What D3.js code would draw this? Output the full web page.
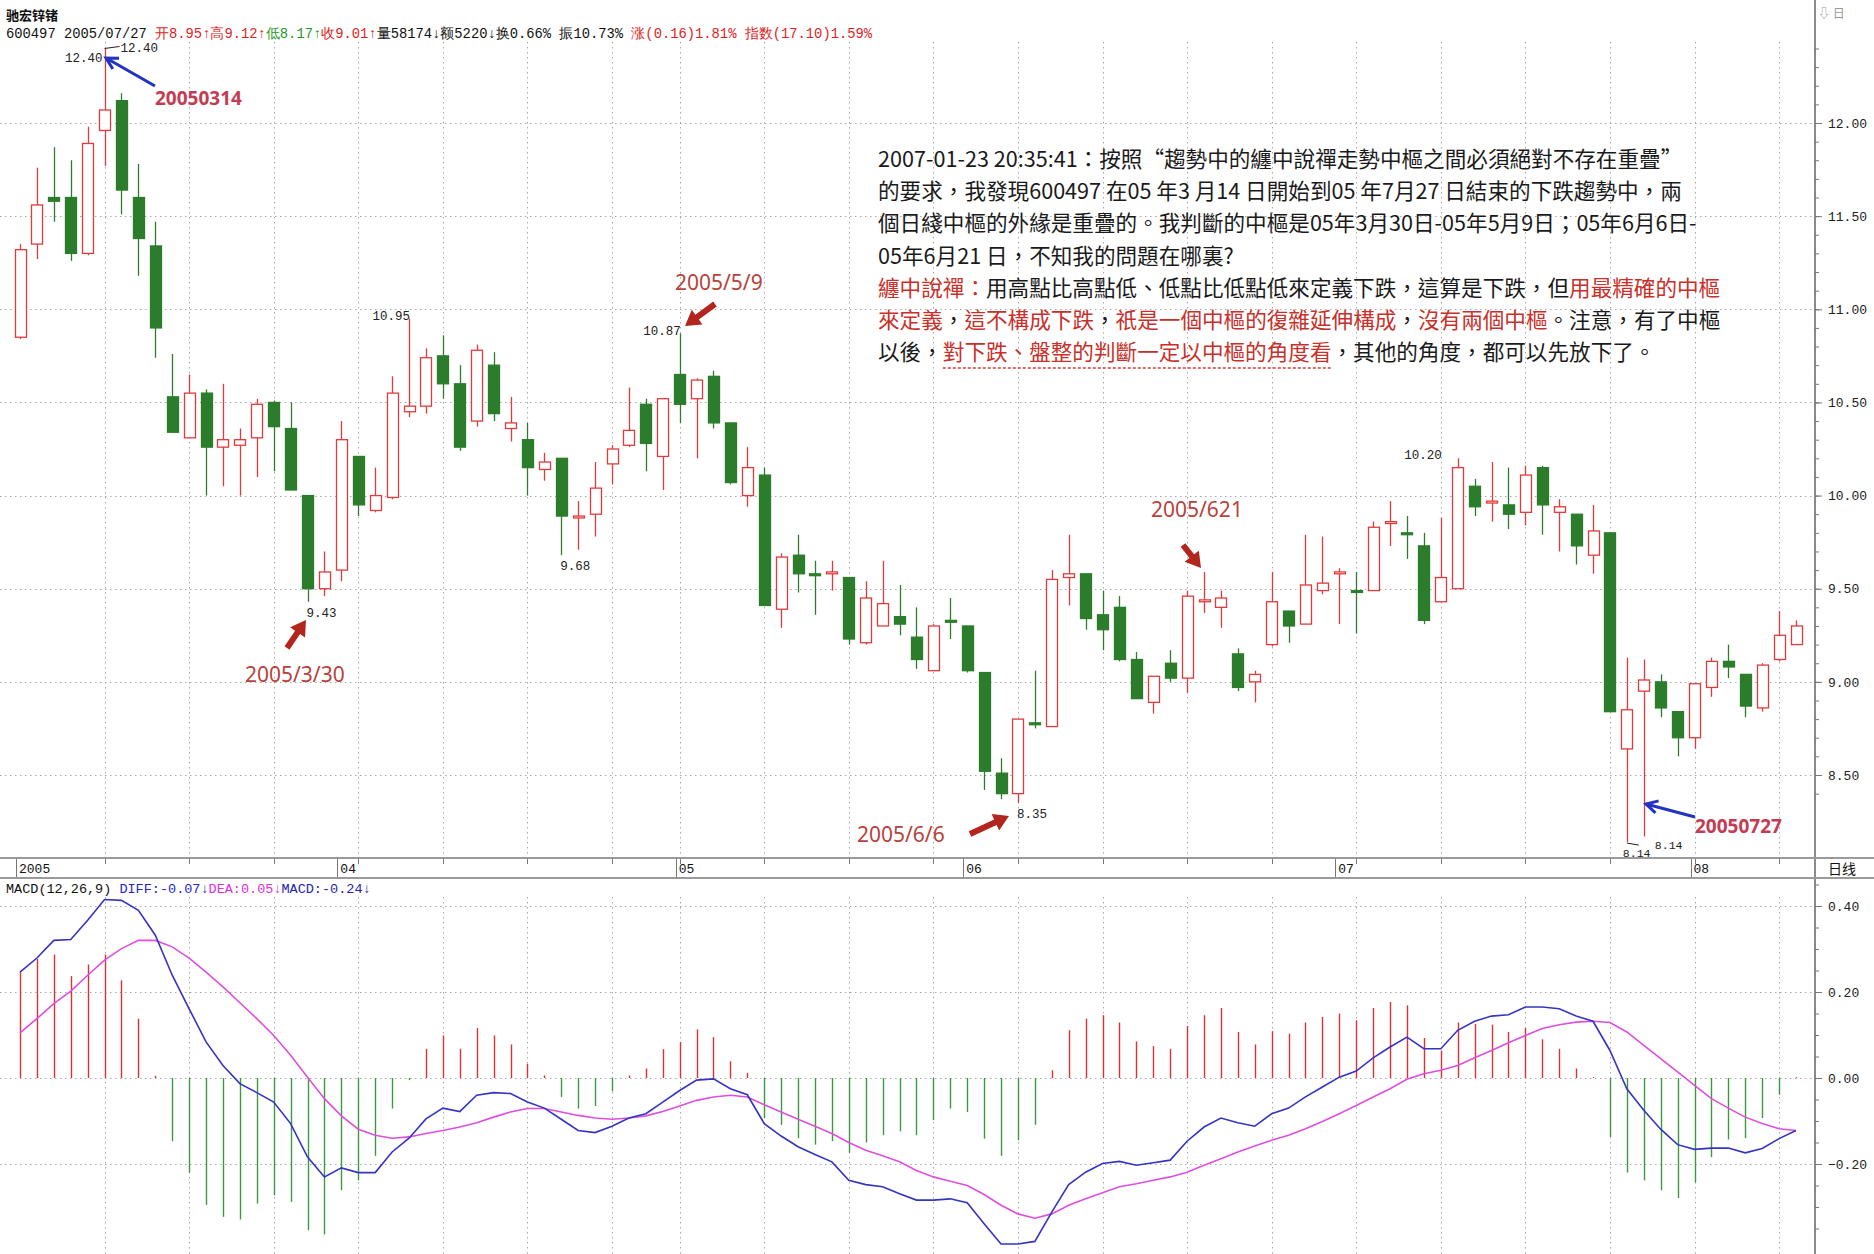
<!DOCTYPE html>
<html><head><meta charset="utf-8">
<script src="https://cdn.jsdelivr.net/npm/d3@7/dist/d3.min.js"></script>
<style>body{margin:0;background:#fff;} svg{display:block;}</style>
</head><body>
<svg id="c" width="1874" height="1254"></svg>
<script>
// ---------------- DATA ----------------
const dates = ["2005-03-07","2005-03-08","2005-03-09","2005-03-10","2005-03-11","2005-03-14","2005-03-15","2005-03-16","2005-03-17","2005-03-18",
"2005-03-21","2005-03-22","2005-03-23","2005-03-24","2005-03-25","2005-03-28","2005-03-29","2005-03-30","2005-03-31","2005-04-01",
"2005-04-04","2005-04-05","2005-04-06","2005-04-07","2005-04-08","2005-04-11","2005-04-12","2005-04-13","2005-04-14","2005-04-15",
"2005-04-18","2005-04-19","2005-04-20","2005-04-21","2005-04-22","2005-04-25","2005-04-26","2005-04-27","2005-04-28","2005-05-09",
"2005-05-10","2005-05-11","2005-05-12","2005-05-13","2005-05-16","2005-05-17","2005-05-18","2005-05-19","2005-05-20","2005-05-23",
"2005-05-24","2005-05-25","2005-05-26","2005-05-27","2005-05-30","2005-05-31","2005-06-01","2005-06-02","2005-06-03","2005-06-06",
"2005-06-07","2005-06-08","2005-06-09","2005-06-10","2005-06-13","2005-06-14","2005-06-15","2005-06-16","2005-06-17","2005-06-20",
"2005-06-21","2005-06-22","2005-06-23","2005-06-24","2005-06-27","2005-06-28","2005-06-29","2005-06-30","2005-07-01","2005-07-04",
"2005-07-05","2005-07-06","2005-07-07","2005-07-08","2005-07-11","2005-07-12","2005-07-13","2005-07-14","2005-07-15","2005-07-18",
"2005-07-19","2005-07-20","2005-07-21","2005-07-22","2005-07-25","2005-07-26","2005-07-27","2005-07-28","2005-07-29","2005-08-01",
"2005-08-02","2005-08-03","2005-08-04","2005-08-05","2005-08-08","2005-08-09"];

const open = [10.85,11.35,11.60,11.60,11.30,11.96,12.12,11.60,11.34,10.53,
10.31,10.55,10.26,10.27,10.31,10.50,10.36,10.00,9.50,9.60,
10.21,9.92,9.99,10.45,10.48,10.75,10.60,10.40,10.70,10.36,
10.30,10.14,10.20,9.88,9.90,10.17,10.27,10.49,10.21,10.65,
10.52,10.64,10.39,10.00,10.11,9.39,9.68,9.58,9.58,9.56,
9.21,9.30,9.35,9.24,9.06,9.33,9.30,9.05,8.51,8.40,
8.78,8.76,9.56,9.58,9.36,9.40,9.12,8.89,9.10,9.02,
9.43,9.40,9.15,9.00,9.20,9.38,9.31,9.49,9.58,9.49,
9.49,9.85,9.80,9.73,9.43,9.50,10.05,9.96,9.95,9.91,
10.15,9.91,9.90,9.68,9.80,8.64,8.95,9.00,8.84,8.70,
8.97,9.11,9.04,8.86,9.12,9.20];
const high = [11.35,11.76,11.87,11.80,11.98,12.40,12.16,11.78,11.47,10.76,
10.65,10.57,10.60,10.36,10.52,10.51,10.50,10.00,9.70,10.40,
10.21,10.15,10.64,10.95,10.79,10.86,10.70,10.81,10.77,10.53,
10.39,10.23,10.20,9.97,10.18,10.27,10.58,10.52,10.52,10.87,
10.63,10.67,10.39,10.26,10.15,9.69,9.79,9.65,9.65,9.56,
9.54,9.65,9.52,9.40,9.31,9.45,9.30,9.05,8.59,8.80,
9.06,9.60,9.79,9.58,9.49,9.46,9.16,9.03,9.17,9.49,
9.59,9.49,9.18,9.06,9.59,9.38,9.79,9.78,9.61,9.59,
9.86,9.97,9.89,9.80,9.88,10.20,10.09,10.18,10.15,10.16,
10.16,9.98,9.90,9.95,9.80,9.13,9.12,9.04,8.84,8.99,
9.13,9.20,9.04,9.10,9.38,9.33];
const low = [10.84,11.27,11.47,11.26,11.29,11.77,11.51,11.18,10.74,10.34,
10.31,10.00,10.05,10.00,10.10,10.13,10.03,9.43,9.46,9.54,
9.89,9.91,9.98,10.42,10.44,10.52,10.24,10.37,10.40,10.29,
10.00,10.08,9.68,9.71,9.78,10.06,10.26,10.13,10.03,10.39,
10.20,10.36,10.06,9.94,9.41,9.29,9.48,9.36,9.49,9.20,
9.20,9.30,9.25,9.07,9.06,9.23,9.05,8.42,8.37,8.35,
8.75,8.76,9.41,9.28,9.17,9.11,8.91,8.83,9.00,8.94,
9.37,9.29,8.95,8.89,9.19,9.21,9.31,9.47,9.31,9.26,
9.49,9.73,9.66,9.31,9.43,9.50,9.89,9.86,9.82,9.84,
9.79,9.70,9.63,9.58,8.84,8.14,8.17,8.81,8.60,8.64,
8.92,9.02,8.81,8.84,9.11,9.20];
const close = [11.32,11.56,11.58,11.30,11.89,12.07,11.64,11.38,10.90,10.34,
10.55,10.26,10.30,10.30,10.49,10.37,10.03,9.50,9.59,10.30,
9.95,10.00,10.55,10.48,10.74,10.60,10.26,10.78,10.44,10.39,
10.15,10.18,9.89,9.89,10.04,10.25,10.35,10.28,10.52,10.49,
10.62,10.39,10.07,10.15,9.41,9.67,9.58,9.57,9.59,9.23,
9.45,9.42,9.31,9.12,9.30,9.32,9.06,8.52,8.40,8.80,
8.77,9.55,9.58,9.34,9.28,9.12,8.91,9.03,9.02,9.46,
9.44,9.45,8.97,9.04,9.43,9.30,9.52,9.53,9.59,9.48,
9.83,9.86,9.79,9.33,9.56,10.15,9.94,9.97,9.90,10.11,
9.95,9.94,9.73,9.81,8.84,8.85,9.01,8.86,8.70,8.99,
9.11,9.08,8.87,9.09,9.25,9.30];

const diff = [0.246,0.279,0.320,0.322,0.367,0.415,0.413,0.390,0.332,0.239,
0.161,0.084,0.029,-0.013,-0.034,-0.056,-0.106,-0.184,-0.230,-0.209,
-0.220,-0.220,-0.172,-0.140,-0.095,-0.070,-0.078,-0.040,-0.034,-0.036,
-0.056,-0.070,-0.096,-0.122,-0.127,-0.112,-0.093,-0.083,-0.056,-0.029,
-0.005,-0.002,-0.025,-0.039,-0.106,-0.135,-0.160,-0.178,-0.195,-0.238,
-0.248,-0.253,-0.269,-0.284,-0.284,-0.281,-0.290,-0.339,-0.386,-0.386,
-0.380,-0.312,-0.248,-0.219,-0.199,-0.194,-0.203,-0.197,-0.191,-0.147,
-0.114,-0.093,-0.104,-0.112,-0.083,-0.070,-0.044,-0.021,0.002,0.016,
0.047,0.072,0.095,0.068,0.068,0.111,0.132,0.144,0.147,0.165,
0.165,0.161,0.144,0.132,0.064,-0.025,-0.075,-0.119,-0.155,-0.166,
-0.163,-0.163,-0.174,-0.164,-0.141,-0.122];
const dea = [0.105,0.138,0.173,0.202,0.239,0.274,0.301,0.320,0.320,0.305,
0.279,0.246,0.212,0.175,0.138,0.099,0.053,0.002,-0.048,-0.088,
-0.119,-0.133,-0.140,-0.137,-0.129,-0.122,-0.114,-0.104,-0.091,-0.079,
-0.071,-0.071,-0.079,-0.087,-0.093,-0.096,-0.093,-0.088,-0.078,-0.065,
-0.052,-0.044,-0.040,-0.044,-0.062,-0.079,-0.096,-0.112,-0.129,-0.150,
-0.168,-0.181,-0.195,-0.215,-0.230,-0.240,-0.250,-0.271,-0.296,-0.316,
-0.326,-0.316,-0.296,-0.281,-0.267,-0.253,-0.246,-0.238,-0.230,-0.219,
-0.203,-0.188,-0.172,-0.158,-0.145,-0.133,-0.118,-0.101,-0.083,-0.064,
-0.044,-0.025,-0.003,0.010,0.018,0.029,0.047,0.064,0.082,0.099,
0.115,0.124,0.130,0.132,0.129,0.107,0.076,0.045,0.014,-0.017,
-0.048,-0.070,-0.091,-0.106,-0.118,-0.122];
const macdHist = [0.246,0.277,0.287,0.237,0.264,0.287,0.227,0.138,0.005,-0.147,
-0.220,-0.295,-0.323,-0.329,-0.292,-0.273,-0.288,-0.354,-0.364,-0.261,
-0.238,-0.181,-0.071,-0.005,0.068,0.099,0.068,0.116,0.099,0.078,
0.033,0.006,-0.044,-0.071,-0.065,-0.031,0.006,0.022,0.067,0.084,
0.113,0.095,0.039,0.012,-0.093,-0.109,-0.140,-0.155,-0.147,-0.174,
-0.150,-0.133,-0.124,-0.133,-0.098,-0.071,-0.079,-0.141,-0.181,-0.145,
-0.109,0.018,0.111,0.138,0.146,0.129,0.085,0.074,0.068,0.121,
0.146,0.163,0.107,0.078,0.109,0.103,0.129,0.142,0.150,0.134,
0.163,0.177,0.169,0.093,0.064,0.129,0.126,0.124,0.107,0.116,
0.090,0.068,0.022,0.002,-0.137,-0.220,-0.238,-0.261,-0.279,-0.243,
-0.184,-0.143,-0.140,-0.093,-0.039,0.002];

const priceTicks = [12.00,11.50,11.00,10.50,10.00,9.50,9.00,8.50];
const macdTicks = [0.40,0.20,0.00,-0.20];
const weekTicks = ["2005-03-14","2005-03-21","2005-03-28","2005-04-04","2005-04-11","2005-04-18","2005-04-25",
"2005-05-09","2005-05-16","2005-05-23","2005-05-30","2005-06-06","2005-06-13","2005-06-20","2005-06-27",
"2005-07-04","2005-07-11","2005-07-18","2005-07-25","2005-08-01","2005-08-08"];
const monthTickDates = ["2005-03-07","2005-04-01","2005-05-09","2005-06-01","2005-07-01","2005-08-01"];
const monthTickLabels = ["2005","04","05","06","07","08"];

// marked extremes (date, price, label)
const markDates = ["2005-03-30","2005-04-07","2005-04-20","2005-05-09","2005-06-06","2005-07-11"];
const markPrices = [9.43,10.95,9.68,10.87,8.35,10.20];

const headerName = "驰宏锌锗";
const headerSegs = [["600497 2005/07/27 ","#111"],["开8.95↑高9.12↑","#e01e1e"],["低8.17↑","#1f9a1f"],["收9.01↑","#e01e1e"],["量58174↓额5220↓换0.66% 振10.73% ","#111"],["涨(0.16)1.81% 指数(17.10)1.59%","#e01e1e"]];
const macdHeaderSegs = [["MACD(12,26,9) ","#111"],["DIFF:-0.07↓","#2424d0"],["DEA:0.05↓","#e22ce2"],["MACD:-0.24↓","#2424b0"]];

const noteLines = [
 [["2007-01-23 20:35:41：按照“趨勢中的纏中說禪走勢中樞之間必須絕對不存在重疊”","k"]],
 [["的要求，我發現600497 在05 年3 月14 日開始到05 年7月27 日結束的下跌趨勢中，兩","k"]],
 [["個日綫中樞的外緣是重疊的。我判斷的中樞是05年3月30日-05年5月9日；05年6月6日-","k"]],
 [["05年6月21 日，不知我的問題在哪裏?","k"]],
 [["纏中說禪：","r"],["用高點比高點低、低點比低點低來定義下跌，這算是下跌，但","k"],["用最精確的中樞","r"]],
 [["來定義","r"],["，","k"],["這不構成下跌","r"],["，","k"],["祇是一個中樞的復雜延伸構成","r"],["，","k"],["沒有兩個中樞","r"],["。注意，有了中樞","k"]],
 [["以後，","k"],["對下跌、盤整的判斷一定以中樞的角度看","r","u"],["，其他的角度，都可以先放下了。","k"]]
];

// ---------------- DRAW ----------------
const RED = "#e23a3a", GREEN = "#2b7d2b", GRID = "#a8a8a8";
const svg = d3.select("#c");
const mono = "'Liberation Mono','DejaVu Sans Mono',monospace";
const cjk = "'Noto Sans CJK TC','Noto Sans CJK SC',sans-serif";

const x = d3.scalePoint().domain(dates).range([20, 1796]);
const y = d3.scaleLinear().domain([8.5, 12]).range([775, 123]);
const ym = d3.scaleLinear().domain([-0.2, 0.4]).range([1164, 906]);
const AX = 1815;

// gridlines main
const grid = svg.append("g").attr("stroke", GRID).attr("stroke-dasharray", "1.5,3.5").attr("stroke-width", 1);
grid.selectAll("line.hp").data(priceTicks).join("line")
  .attr("x1", 0).attr("x2", AX).attr("y1", d => Math.round(y(d)) + .5).attr("y2", d => Math.round(y(d)) + .5);
grid.selectAll("line.hm").data(macdTicks).join("line")
  .attr("x1", 0).attr("x2", AX).attr("y1", d => Math.round(ym(d)) + .5).attr("y2", d => Math.round(ym(d)) + .5);
grid.selectAll("line.vw").data(weekTicks).join("line")
  .attr("x1", d => Math.round(x(d)) + .5).attr("x2", d => Math.round(x(d)) + .5).attr("y1", 42).attr("y2", 858);
grid.selectAll("line.vw2").data(weekTicks).join("line")
  .attr("x1", d => Math.round(x(d)) + .5).attr("x2", d => Math.round(x(d)) + .5).attr("y1", 897).attr("y2", 1254);

// candles
const data = dates.map((d, i) => ({d, o: open[i], h: high[i], l: low[i], c: close[i]}));
const bw = 11;
const cg = svg.append("g");
cg.selectAll("line").data(data).join("line")
  .attr("x1", d => Math.round(x(d.d)) + .5).attr("x2", d => Math.round(x(d.d)) + .5)
  .attr("y1", d => y(d.h)).attr("y2", d => y(d.l))
  .attr("stroke", d => d.c >= d.o ? RED : GREEN).attr("stroke-width", 1.3);
cg.selectAll("rect").data(data).join("rect")
  .attr("x", d => Math.round(x(d.d) - bw / 2) + .5)
  .attr("y", d => y(Math.max(d.o, d.c)))
  .attr("width", bw)
  .attr("height", d => Math.max(1, Math.abs(y(d.o) - y(d.c))))
  .attr("fill", d => d.c >= d.o ? "#fff" : GREEN)
  .attr("stroke", d => d.c >= d.o ? RED : GREEN).attr("stroke-width", 1.3);

// MACD histogram
const mg = svg.append("g");
mg.selectAll("line").data(dates).join("line")
  .attr("x1", d => Math.round(x(d)) + .5).attr("x2", d => Math.round(x(d)) + .5)
  .attr("y1", ym(0)).attr("y2", (d, i) => ym(macdHist[i]))
  .attr("stroke", (d, i) => macdHist[i] >= 0 ? "#e03030" : "#3c9a3c").attr("stroke-width", 1.4);
const lineGen = arr => d3.line().x((d, i) => x(dates[i])).y(d => ym(d))(arr);
mg.append("path").attr("d", lineGen(dea)).attr("fill", "none").attr("stroke", "#e04ee0").attr("stroke-width", 1.6);
mg.append("path").attr("d", lineGen(diff)).attr("fill", "none").attr("stroke", "#3434c4").attr("stroke-width", 1.6);

// frame lines
svg.append("line").attr("x1", AX).attr("x2", AX).attr("y1", 0).attr("y2", 1254).attr("stroke", "#8a8a8a").attr("stroke-width", 2);
svg.append("line").attr("x1", 0).attr("x2", 1874).attr("y1", 858).attr("y2", 858).attr("stroke", "#9a9a9a").attr("stroke-width", 2);
svg.append("line").attr("x1", 0).attr("x2", 1874).attr("y1", 878).attr("y2", 878).attr("stroke", "#9a9a9a").attr("stroke-width", 2);

// right axes
const ra = svg.append("g").attr("transform", `translate(${AX},0)`)
  .call(d3.axisRight(y).tickValues(priceTicks).tickFormat(d3.format(".2f")).tickSize(7).tickPadding(6));
const rm = svg.append("g").attr("transform", `translate(${AX},0)`)
  .call(d3.axisRight(ym).tickValues(macdTicks).tickFormat(d3.format(".2f")).tickSize(7).tickPadding(6));
const minorP = svg.append("g").attr("transform", `translate(${AX},0)`)
  .call(d3.axisRight(y).tickValues(d3.range(8.4, 12.45, 0.1)).tickFormat("").tickSize(4));
const minorM = svg.append("g").attr("transform", `translate(${AX},0)`)
  .call(d3.axisRight(ym).tickValues(d3.range(-0.35, 0.46, 0.05)).tickFormat("").tickSize(4));
[ra, rm, minorP, minorM].forEach(a => {
  a.select(".domain").remove();
  a.selectAll("line").attr("stroke", "#777");
  a.selectAll("text").attr("font-family", mono).attr("font-size", 13).attr("fill", "#222");
});

// x axis band
const xa = svg.append("g");
xa.selectAll("line.wk").data(weekTicks).join("line")
  .attr("x1", d => Math.round(x(d)) + .5).attr("x2", d => Math.round(x(d)) + .5).attr("y1", 859).attr("y2", 864)
  .attr("stroke", "#777");
xa.selectAll("line.mo").data(monthTickDates).join("line")
  .attr("x1", d => Math.round(x(d)) - 3.5).attr("x2", d => Math.round(x(d)) - 3.5).attr("y1", 859).attr("y2", 877)
  .attr("stroke", "#777");
xa.selectAll("text").data(monthTickDates).join("text")
  .attr("x", d => x(d) - 1).attr("y", 873).text((d, i) => monthTickLabels[i])
  .attr("font-family", mono).attr("font-size", 13).attr("fill", "#111");
svg.append("text").attr("x", 1828).attr("y", 874).text("日线").attr("font-family", cjk).attr("font-size", 14).attr("fill", "#111");
svg.append("text").attr("x", 1818).attr("y", 18).text("⇩ 日").attr("font-family", cjk).attr("font-size", 12).attr("fill", "#999");

// headers
svg.append("text").attr("x", 6).attr("y", 20).text(headerName)
  .attr("font-family", cjk).attr("font-size", 13).attr("font-weight", "bold").attr("fill", "#111");
const h2 = svg.append("text").attr("x", 6).attr("y", 38).attr("font-family", mono).attr("font-size", 13.8).style("white-space", "pre");
headerSegs.forEach(s => h2.append("tspan").text(s[0]).attr("fill", s[1]));
const h3 = svg.append("text").attr("x", 6).attr("y", 893).attr("font-family", mono).attr("font-size", 13.5).style("white-space", "pre");
macdHeaderSegs.forEach(s => h3.append("tspan").text(s[0]).attr("fill", s[1]));

// value labels for extremes
const lab = svg.append("g").attr("font-family", mono).attr("font-size", 12.5).attr("fill", "#222");
const fmt = d3.format(".2f");
markDates.forEach((d, i) => {
  const p = markPrices[i], px = x(d), py = y(p);
  const isLow = Math.abs(p - low[dates.indexOf(d)]) < 1e-9;
  if (isLow) lab.append("text").attr("x", px - 1).attr("y", py + 15).text(fmt(p));
  else lab.append("text").attr("x", px + 1).attr("y", py + 1).attr("text-anchor", "end").text(fmt(p));
});
// 12.40 and 8.14 labels
{
  const px = x("2005-03-14"), py = y(12.40);
  lab.append("text").attr("x", px - 2).attr("y", py + 14).attr("text-anchor", "end").text(fmt(12.40));
  svg.append("line").attr("x1", px).attr("x2", px + 15).attr("y1", py).attr("y2", py - 2).attr("stroke", "#222");
  lab.append("text").attr("x", px + 16).attr("y", py + 4).text(fmt(12.40));
  const qx = x("2005-07-26"), qy = y(8.14);
  svg.append("line").attr("x1", qx).attr("x2", qx + 12).attr("y1", qy + 1).attr("y2", qy + 3).attr("stroke", "#222");
  lab.append("text").attr("x", qx - 4).attr("y", qy + 15).attr("font-size", 11.5).text(fmt(8.14));
  lab.append("text").attr("x", qx + 28).attr("y", qy + 7).attr("font-size", 11.5).text(fmt(8.14));
}

// arrows
function redArrow(x1, y1, x2, y2) {
  const a = Math.atan2(y2 - y1, x2 - x1), L = Math.hypot(x2 - x1, y2 - y1);
  const hl = 15, hw = 9, sw = 3;
  const pts = [[0, -sw], [L - hl, -sw], [L - hl, -hw], [L, 0], [L - hl, hw], [L - hl, sw], [0, sw]];
  const p = pts.map(([u, v]) => [x1 + u * Math.cos(a) - v * Math.sin(a), y1 + u * Math.sin(a) + v * Math.cos(a)]);
  svg.append("path").attr("d", "M" + p.join("L") + "Z").attr("fill", "#b3261e");
}
function blueArrow(x1, y1, x2, y2) {
  const a = Math.atan2(y2 - y1, x2 - x1);
  svg.append("line").attr("x1", x1).attr("y1", y1).attr("x2", x2).attr("y2", y2).attr("stroke", "#2233c4").attr("stroke-width", 3);
  const h = 13;
  const p1 = [x2 - h * Math.cos(a - 0.5), y2 - h * Math.sin(a - 0.5)];
  const p2 = [x2 - h * Math.cos(a + 0.5), y2 - h * Math.sin(a + 0.5)];
  svg.append("path").attr("d", `M${p1}L${x2},${y2}L${p2}`).attr("fill", "none").attr("stroke", "#2233c4").attr("stroke-width", 3);
}
blueArrow(155, 86, 106, 58);
blueArrow(1695, 817, 1646, 804);
redArrow(287, 648, 306, 620);
redArrow(715, 304, 685, 326);
redArrow(970, 834, 1009, 816);
redArrow(1183, 545, 1201, 568);

const ann = svg.append("g").attr("font-family", "'Noto Sans','Noto Sans CJK SC',sans-serif");
ann.append("text").attr("x", 155).attr("y", 105).text("20050314").attr("font-size", 19).attr("font-weight", "bold").attr("fill", "#c43c54");
ann.append("text").attr("x", 1695).attr("y", 833).text("20050727").attr("font-size", 19).attr("font-weight", "bold").attr("fill", "#c43c54");
[["2005/3/30", 245, 682], ["2005/5/9", 675, 290], ["2005/6/6", 857, 842], ["2005/621", 1151, 517]].forEach(t =>
  ann.append("text").attr("x", t[1]).attr("y", t[2]).text(t[0]).attr("font-size", 21).attr("fill", "#b8423c"));

// paragraph
const NX = 878, baselines = [167, 199, 231, 264, 296, 328, 360];
noteLines.forEach((segs, li) => {
  const t = svg.append("text").attr("x", NX).attr("y", baselines[li]).attr("font-family", cjk).attr("font-size", 21.6).style("white-space", "pre");
  segs.forEach(s => {
    const ts = t.append("tspan").text(s[0]).attr("fill", s[1] === "r" ? "#c8302a" : "#1a1a1a");
    if (s[2] === "u") ts.attr("class", "ul");
  });
  t.selectAll("tspan.ul").each(function () {
    const n = this.getNumberOfChars();
    const sx = this.getStartPositionOfChar(0).x, ex = this.getEndPositionOfChar(n - 1).x;
    svg.append("line").attr("x1", sx).attr("x2", ex).attr("y1", baselines[li] + 8).attr("y2", baselines[li] + 8)
      .attr("stroke", "#d04040").attr("stroke-width", 1.5).attr("stroke-dasharray", "3,2");
  });
});
</script>
</body></html>
